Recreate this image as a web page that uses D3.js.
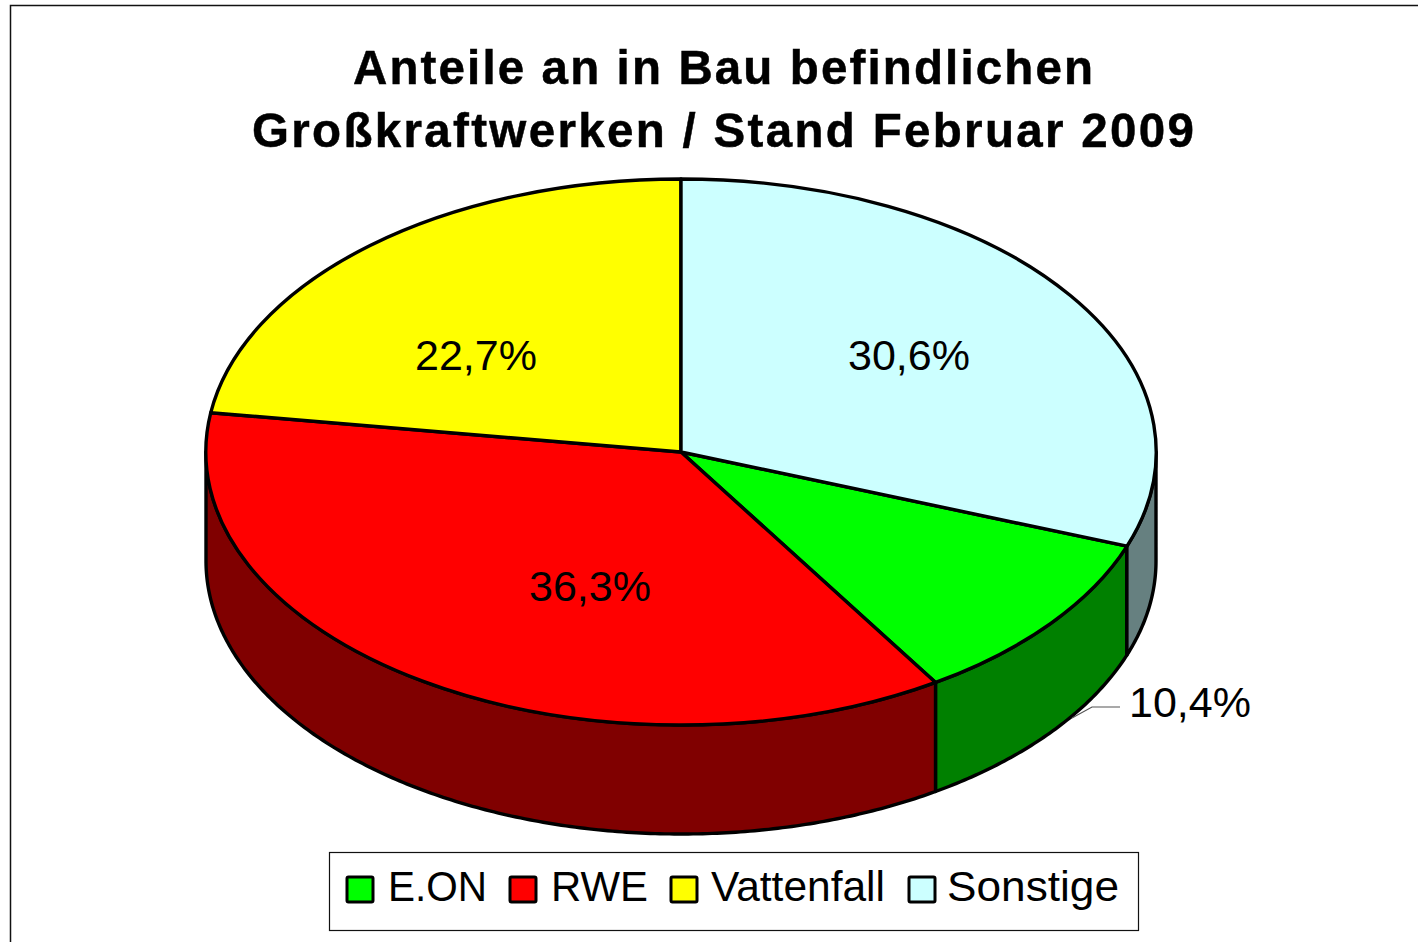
<!DOCTYPE html>
<html>
<head>
<meta charset="utf-8">
<script src="https://cdn.jsdelivr.net/npm/d3@7"></script>
<style>
  body { margin: 0; background: #fff; }
  text { font-family: "Liberation Sans", Arial, sans-serif; fill: #000; }
</style>
</head>
<body>
<div id="chart"></div>
<script>
// values
const categories = ["E.ON", "RWE", "Vattenfall", "Sonstige"];
const shares = [10.4, 36.3, 22.7, 30.6];
const shareLabels = ["10,4%", "36,3%", "22,7%", "30,6%"];
const titleLines = ["Anteile an in Bau befindlichen", "Großkraftwerken / Stand Februar 2009"];

const topColors = ["#00ff00", "#ff0000", "#ffff00", "#ccffff"];
const sideColors = ["#008000", "#800000", "#808000", "#668080"];

// layout
const width = 1418, height = 942;
const cx = 681, cy = 452, rx = 475, ry = 273, depth = 109;
const labelPos = [[1129, 717], [590, 601], [476, 370], [909, 370]];
const legendSwatchX = [347, 510, 671, 909];
const legendTextX = [388, 551, 711, 947];
const legendTextW = [99, 97, 174, 172];
const titleSquash = 0.97; // title glyphs are a bit narrow and spaced out in the original

const svg = d3.select("#chart")
    .append("svg")
    .attr("width", width)
    .attr("height", height)
    .style("display", "block");

// frame runs off the right and bottom of the picture
svg.append("rect")
    .attr("x", 10.5).attr("y", 5.5)
    .attr("width", width + 50).attr("height", height + 50)
    .attr("fill", "#fff")
    .attr("stroke", "#111")
    .attr("stroke-width", 1.5);

svg.selectAll("text.title")
    .data(titleLines)
    .join("text")
    .attr("class", "title")
    .attr("transform", (d, i) => `translate(723,${84 + i * 63}) scale(${titleSquash},1)`)
    .attr("text-anchor", "middle")
    .attr("font-size", 49)
    .attr("font-weight", "bold")
    .attr("stroke", "#000")
    .attr("stroke-width", 0.5)
    .attr("textLength", (d, i) => (i === 0 ? 740 : 942) / titleSquash)
    .attr("lengthAdjust", "spacing")
    .text(d => d);

// pie starts where E.ON starts, Sonstige then ends there again
const start = shares[3] / 100 * 2 * Math.PI;
const pie = d3.pie().sort(null).startAngle(start).endAngle(start + 2 * Math.PI);
const slices = pie(shares);

const sx = d3.scaleLinear().domain([-1, 1]).range([cx - rx, cx + rx]);
const sy = d3.scaleLinear().domain([-1, 1]).range([cy - ry, cy + ry]);

const rim = d3.line()
    .x(d => sx(Math.sin(d[0])))
    .y(d => sy(-Math.cos(d[0])) + d[1]);

// the wall of a slice between two angles: along the top rim, back along the bottom rim
function wallPath(a0, a1) {
    const angles = d3.range(a0, a1, 0.01).concat([a1]);
    const top = angles.map(a => [a, 0]);
    const bottom = angles.slice().reverse().map(a => [a, depth]);
    return rim(top.concat(bottom)) + "Z";
}

const frontFrom = Math.PI / 2, frontTo = Math.PI * 1.5;
const chart = svg.append("g");

slices.forEach((s, i) => {
    [0, 2 * Math.PI].forEach(shift => {
        const a0 = Math.max(s.startAngle, frontFrom + shift);
        const a1 = Math.min(s.endAngle, frontTo + shift);
        if (a1 <= a0) return;
        chart.append("path")
            .attr("d", wallPath(a0, a1))
            .attr("fill", sideColors[i])
            .attr("stroke", "#000")
            .attr("stroke-width", 3.4)
            .attr("stroke-linejoin", "round");
    });
});

const arc = d3.arc().innerRadius(0).outerRadius(1);

chart.append("g")
    .attr("transform", `translate(${cx},${cy}) scale(${rx},${ry})`)
    .selectAll("path")
    .data(slices)
    .join("path")
    .attr("d", arc)
    .attr("fill", (d, i) => topColors[i])
    .attr("stroke", "#000")
    .attr("stroke-width", 3.4)
    .attr("stroke-linejoin", "round")
    .attr("vector-effect", "non-scaling-stroke");

// leader of the E.ON label
svg.append("path")
    .attr("d", d3.line()([[1072, 718], [1092, 707], [1120, 707]]))
    .attr("fill", "none")
    .attr("stroke", "#555")
    .attr("stroke-width", 1.2);

svg.selectAll("text.share")
    .data(shareLabels)
    .join("text")
    .attr("class", "share")
    .attr("x", (d, i) => labelPos[i][0])
    .attr("y", (d, i) => labelPos[i][1])
    .attr("text-anchor", (d, i) => i === 0 ? "start" : "middle")
    .attr("font-size", 43)
    .text(d => d);

// legend
svg.append("rect")
    .attr("x", 329.5).attr("y", 852.5)
    .attr("width", 809).attr("height", 78)
    .attr("fill", "#fff")
    .attr("stroke", "#111")
    .attr("stroke-width", 1.2);

svg.selectAll("rect.swatch")
    .data(categories)
    .join("rect")
    .attr("class", "swatch")
    .attr("x", (d, i) => legendSwatchX[i])
    .attr("y", 877)
    .attr("width", 26)
    .attr("height", 25)
    .attr("rx", 1.5)
    .attr("fill", (d, i) => topColors[i])
    .attr("stroke", "#000")
    .attr("stroke-width", 3);

svg.selectAll("text.legend")
    .data(categories)
    .join("text")
    .attr("class", "legend")
    .attr("x", (d, i) => legendTextX[i])
    .attr("y", 901)
    .attr("font-size", 43)
    .attr("textLength", (d, i) => legendTextW[i])
    .attr("lengthAdjust", "spacingAndGlyphs")
    .text(d => d);
</script>
</body>
</html>
